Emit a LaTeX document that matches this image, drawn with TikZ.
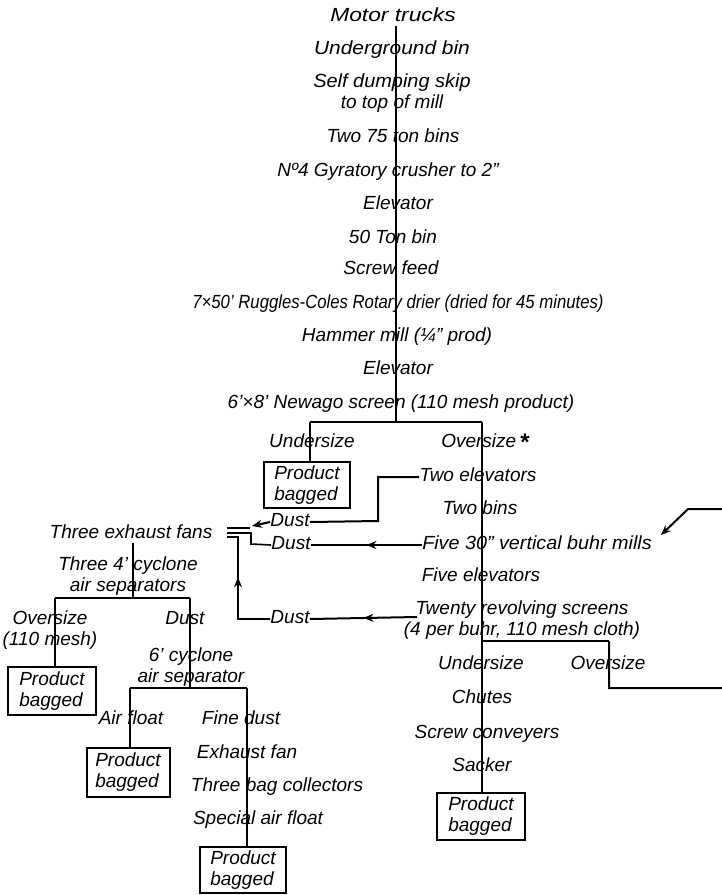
\documentclass[tikz,border=0pt]{standalone}
\usepackage{fontspec}
\setmainfont{Liberation Sans}
\usepackage{graphicx}
\usetikzlibrary{arrows.meta,decorations.markings}
\begin{document}
\begin{tikzpicture}[x=0.5pt,y=-0.5pt,
  lbl/.style={font=\fontsize{9.5}{10.5}\selectfont\itshape, inner sep=0pt, text height=6.8pt, text depth=2pt},
  lbltwo/.style={font=\fontsize{9.5}{10.6}\selectfont\itshape, inner sep=0pt, align=center},
  pbox/.style={draw, line width=1pt, font=\fontsize{9.5}{10.4}\selectfont\itshape, align=left, inner sep=2pt},
  ln/.style={line width=1pt},
  thinln/.style={line width=0.8pt},
  midarrow/.style={postaction={decorate, decoration={markings, mark=at position #1 with {\arrow{Stealth[length=5pt,width=4pt]}}}}},
  tip/.style={-{Stealth[length=5pt,width=4pt]}}
]
\useasboundingbox (0,0) rectangle (722,895);

% main trunk
\node[lbl] (motor) at (393,17) {\scalebox{1.2}[1]{Motor trucks}};
\node[lbl] (ubin) at (392,50) {\scalebox{1.1}[1]{Underground bin}};
\node[lbltwo] (skip) at (392,93) {\scalebox{1.05}[1]{Self dumping skip}\\to top of mill};
\node[lbl] (bins75) at (393,138) {Two 75 ton bins};
\node[lbl] (gyr) at (388,172) {Nº4 Gyratory crusher to 2"};
\node[lbl] (elev1) at (398,205) {Elevator};
\node[lbl] (bin50) at (393,239) {50 Ton bin};
\node[lbl] (feed) at (391,270) {Screw feed};
\node[lbl] (drier) at (398,304) {\scalebox{0.88}[1]{7×50' Ruggles-Coles Rotary drier (dried for 45 minutes)}};
\node[lbl] (hammer) at (397,337) {Hammer mill (¼" prod)};
\node[lbl] (elev2) at (398,370) {Elevator};
\node[lbl] (screen) at (401,404) {6'×8' Newago screen (110 mesh product)};

\coordinate (b1) at (396,422);
\coordinate (b1l) at (310,422);
\coordinate (b1r) at (482,422);

\node[lbl] (under1) at (312,443) {Undersize};
\node[pbox, minimum width=43pt, minimum height=21.5pt] (box1) at (307,485) {Product\\bagged};

\node[lbl] (over1) at (485,443) {Oversize\,\raisebox{-0.3ex}{\large\textbf{*}}};
\node[lbl] (elevs2) at (478,477) {Two elevators};
\node[lbl] (bins2) at (480,510) {Two bins};
\node[lbl] (mills) at (537,545) {\scalebox{1.04}[1]{Five 30" vertical buhr mills}};
\node[lbl] (elevs5) at (481,577) {Five elevators};
\node[lbltwo] (twenty) at (522,620) {Twenty revolving screens\\(4 per buhr, 110 mesh cloth)};
\coordinate (twin) at (417,617);
\coordinate (millsin) at (661,535);

\coordinate (b2l) at (482,641);
\coordinate (b2r) at (609,641);
\node[lbl] (under2) at (481,665) {Undersize};
\node[lbl] (over2) at (608,665) {Oversize};
\node[lbl] (chutes) at (482,699) {Chutes};
\node[lbl] (conv) at (487,734) {Screw conveyers};
\node[lbl] (sacker) at (482,767) {Sacker};
\node[pbox, minimum width=44pt, minimum height=23.5pt] (box4) at (481,816) {Product\\bagged};

% left part
\node[lbl] (fans) at (131,534) {Three exhaust fans};
\node[lbl] (dust1) at (290,522) {Dust};
\node[lbl] (dust2) at (291,545) {Dust};
\node[lbl] (dust3) at (290,619) {Dust};
\node[lbltwo] (cyc4) at (128,576) {Three 4' cyclone\\air separators};
\coordinate (b3) at (133,598);
\coordinate (b3l) at (55,598);
\coordinate (b3r) at (190,598);
\node[lbltwo] (over3) at (50,630) {Oversize\\(110 mesh)};
\node[pbox, minimum width=44pt, minimum height=24pt] (box5) at (52,691) {Product\\bagged};
\node[lbl] (dust4) at (185,620) {Dust};
\node[lbltwo] (cyc6) at (191,667) {6' cyclone\\air separator};
\coordinate (b4) at (190,688);
\coordinate (b4l) at (130,688);
\coordinate (b4r) at (247,688);
\node[lbl] (airf) at (131,720) {Air float};
\node[pbox, minimum width=41.5pt, minimum height=24.5pt] (box2) at (128,772) {Product\\bagged};
\node[lbl] (fdust) at (241,720) {Fine dust};
\node[lbl] (exfan) at (247,754) {Exhaust fan};
\node[lbl] (bagc) at (277,787) {Three bag collectors};
\node[lbl] (spaf) at (258,820) {Special air float};
\node[pbox, minimum width=43pt, minimum height=23pt] (box3) at (243,870) {Product\\bagged};

% fan symbol ends
\coordinate (fa) at (227,528);
\coordinate (fae) at (250,528);
\coordinate (fb) at (227,533);
\coordinate (fc) at (227,537);

% connectors
\draw[ln] (b1 |- motor.south) -- (b1);
\draw[ln] (b1l) -- (b1r);
\draw[ln] (b1l) -- (b1l |- box1.north);
\draw[ln] (b1r) -- (b2l);
\draw[ln] (b2l) -- (b2r);
\draw[ln] (b2l) -- (b2l |- box4.north);
\draw[ln,tip] (b2r) -- (609,688) -- (745,688) -- (745,509) -- (688,509) -- (millsin);

\draw[ln] (elevs2.west) -- (378,477) -- (378,521) -- (dust1.east);
\draw[ln,tip] (dust1.west) -- (252,526);
\draw[thinln] (fa) -- (fae);
\draw[thinln] (fb) -- (251,533) -- (251,544) -- (dust2.west);
\draw[thinln, midarrow=0.59] (dust3.west) -- (238,619) -- (238,537) -- (fc);
\draw[ln, midarrow=0.5] (mills.west) -- (dust2.east);
\draw[ln, midarrow=0.5] (twin) -- (dust3.east);

\draw[ln] (fans.south -| b3) -- (b3);
\draw[ln] (b3l) -- (b3r);
\draw[ln] (b3l) -- (b3l |- box5.north);
\draw[ln] (b3r) -- (b4);
\draw[ln] (b4l) -- (b4r);
\draw[ln] (b4l) -- (b4l |- box2.north);
\draw[ln] (b4r) -- (b4r |- box3.north);
\end{tikzpicture}
\end{document}
